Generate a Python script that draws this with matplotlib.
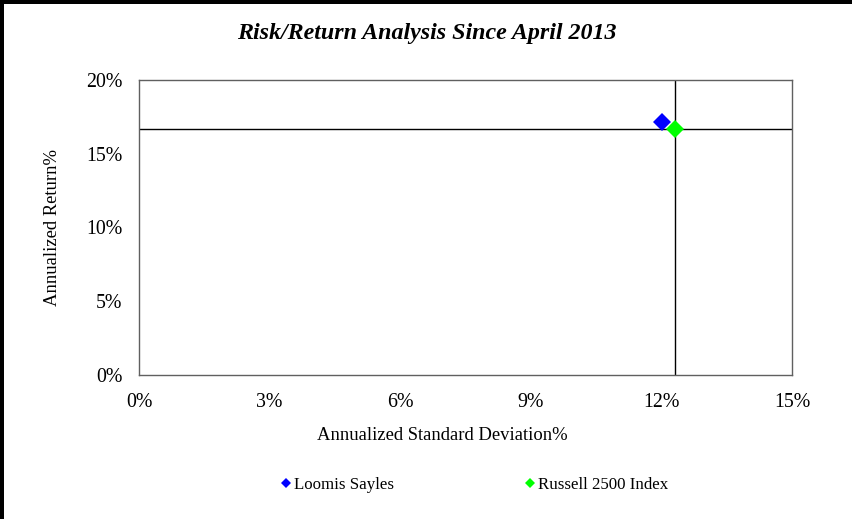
import matplotlib.pyplot as plt
from matplotlib.patches import Rectangle
from matplotlib.ticker import FuncFormatter

# Risk / return values (in %)
names = ["Loomis Sayles", "Russell 2500 Index"]
std_devs = [12.01, 12.32]
returns = [17.15, 16.66]
colors = ["#0000FF", "#00FF00"]

x_ticks = [0, 3, 6, 9, 12, 15]
y_ticks = [0, 5, 10, 15, 20]

plt.rcParams['font.family'] = ['Liberation Serif', 'DejaVu Serif']

fig = plt.figure(figsize=(8.52, 5.19), dpi=100)
ax = fig.add_axes([139 / 852, 144 / 519, 653 / 852, 295 / 519])

# benchmark crosshair
ax.axvline(std_devs[1], color='black', lw=1, zorder=1)
ax.axhline(returns[1], color='black', lw=1, zorder=1)

for name, sd, ret, c in zip(names, std_devs, returns, colors):
    ax.plot([sd], [ret], linestyle='none', marker='D', markersize=8.7,
            color=c, markeredgewidth=0, label=name, zorder=3)

ax.set_xlim(0, 15)
ax.set_ylim(0, 20)
ax.set_xticks(x_ticks)
ax.set_yticks(y_ticks)
ax.xaxis.set_major_formatter(FuncFormatter(lambda v, p: f"{v:.0f}%"))
ax.yaxis.set_major_formatter(FuncFormatter(lambda v, p: f"{v:.0f}%"))
ax.tick_params(axis='both', length=0, labelsize=14.3)
ax.tick_params(axis='x', pad=13)
ax.tick_params(axis='y', pad=12)
for s in ax.spines.values():
    s.set_color('#606060')
    s.set_linewidth(1)

ax.set_ylabel("Annualized Return%", fontsize=13.4, labelpad=18)
fig.text(442 / 852, 1 - 435 / 519, "Annualized Standard Deviation%",
         ha='center', va='center', fontsize=13.4)

fig.text(427 / 852, 1 - 33 / 519, "Risk/Return Analysis Since April 2013",
         ha='center', va='center', fontsize=17.3, fontweight='bold',
         fontstyle='italic')

handles, labels = ax.get_legend_handles_labels()
leg = fig.legend(handles, labels, loc='center', bbox_to_anchor=(474.5 / 852, 1 - 485 / 519),
                 ncol=2, frameon=False, fontsize=12.2, markerscale=0.58,
                 handlelength=0.6, handletextpad=0.15, columnspacing=7.75)

# figure border (top and left only)
fig.add_artist(Rectangle((0, 1 - 3.5 / 519), 1, 3.5 / 519, transform=fig.transFigure,
                         color='black', lw=0))
fig.add_artist(Rectangle((0, 0), 3.5 / 852, 1, transform=fig.transFigure,
                         color='black', lw=0))

fig.savefig('out.png', dpi=100)
